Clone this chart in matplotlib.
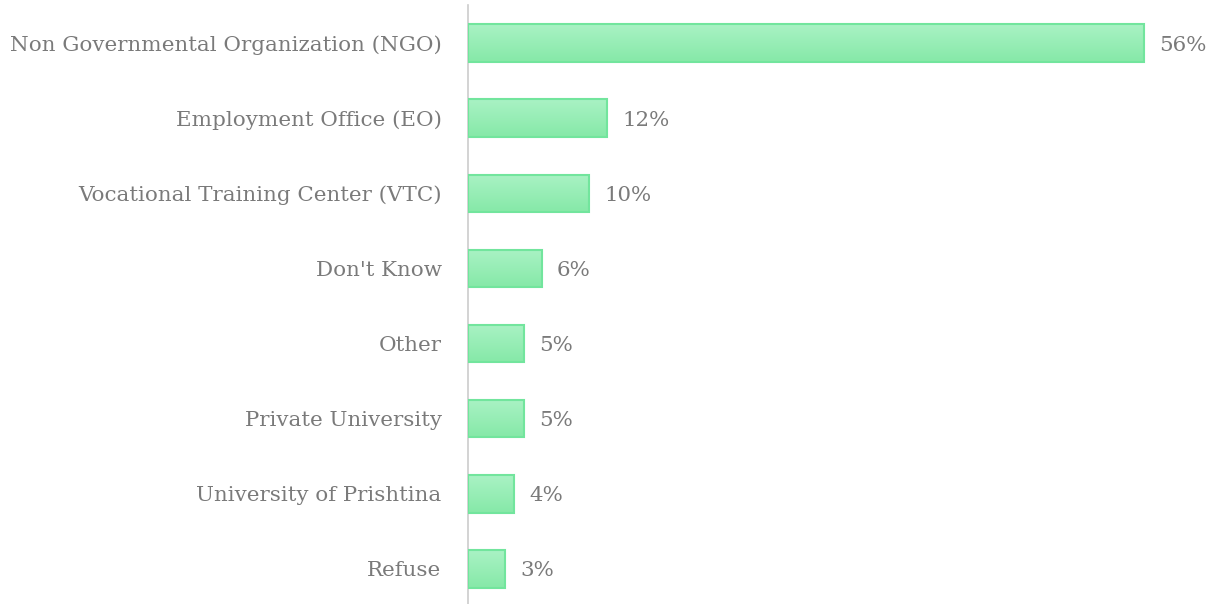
import numpy as np
import matplotlib
matplotlib.use("Agg")
import matplotlib.pyplot as plt
from matplotlib.colors import LinearSegmentedColormap

categories = ["Non Governmental Organization (NGO)", "Employment Office (EO)",
              "Vocational Training Center (VTC)", "Don't Know", "Other",
              "Private University", "University of Prishtina", "Refuse"]
values = [56.0, 11.5, 10.0, 6.1, 4.6, 4.6, 3.8, 3.1]
labels = ["56%", "12%", "10%", "6%", "5%", "5%", "4%", "3%"]

plt.rcParams['font.family'] = ['DejaVu Serif']
text_color = "#7a7a7a"
fs = 15.4

fig = plt.figure(figsize=(12.12, 6.04), dpi=100)
ax = fig.add_axes([468/1212, 0.0, 1 - 468/1212, 599/604])

n = len(categories)
ypos = np.arange(n)
bar_h = 0.5
cmap = LinearSegmentedColormap.from_list("g", ["#a9f2c4", "#86e9a8"])
grad = np.linspace(0, 1, 64).reshape(-1, 1)

for y, v in zip(ypos, values):
    ax.imshow(grad, cmap=cmap, aspect='auto',
              extent=(0, v, y + bar_h/2, y - bar_h/2), origin='upper', zorder=2)
ax.barh(ypos, values, height=bar_h, facecolor='none', edgecolor="#72e59d",
        linewidth=1.5, zorder=3)
for y, v, lab in zip(ypos, values, labels):
    ax.annotate(lab, xy=(v, y), xytext=(11, 0), textcoords='offset points',
                va='center_baseline', ha='left', fontsize=fs, color=text_color)

ax.set_xlim(0, 744/12.07)
ax.set_ylim(n - 1 + 0.466, -0.506)
ax.set_yticks(ypos)
ax.set_yticklabels(categories, fontsize=fs, color=text_color, va='center_baseline')
ax.tick_params(axis='y', length=0, pad=19)
ax.set_xticks([])
for s in ['top', 'right', 'bottom']:
    ax.spines[s].set_visible(False)
ax.spines['left'].set_color("#cccccc")
ax.spines['left'].set_linewidth(1.2)

fig.savefig("out.png", dpi=100)
